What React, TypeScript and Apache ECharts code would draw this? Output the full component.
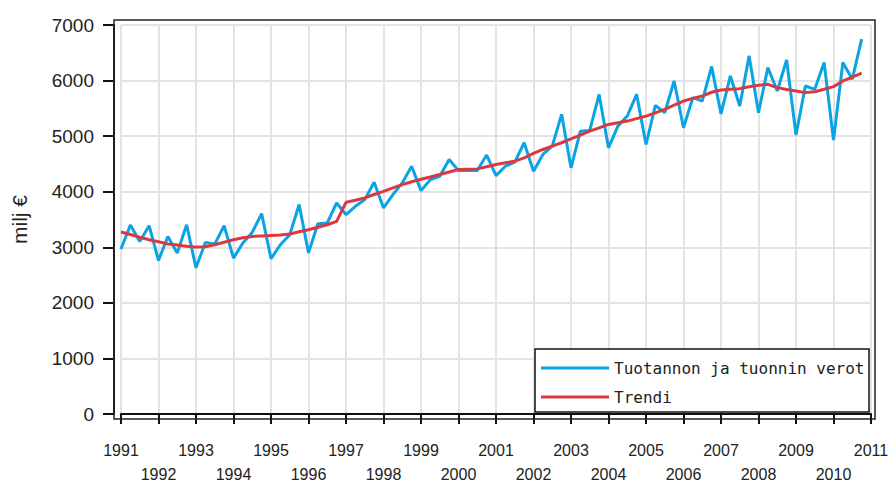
import React, { useEffect, useRef } from "react";
import * as echarts from "echarts";

// Quarterly data 1991Q1 .. 2010Q4 (milj €)
const startYear = 1991;
const quarters = ["Q1", "Q2", "Q3", "Q4"];

const verot: number[] = [
  2970, 3400, 3105, 3388,
  2762, 3195, 2895, 3406,
  2630, 3087, 3058, 3388,
  2805, 3076, 3267, 3605,
  2795, 3045, 3225, 3770,
  2900, 3424, 3437, 3798,
  3587, 3737, 3858, 4170,
  3707, 3948, 4159, 4459,
  4020, 4218, 4278, 4580,
  4380, 4380, 4380, 4660,
  4290, 4459, 4531, 4881,
  4368, 4670, 4820, 5392,
  4430, 5090, 5103, 5750,
  4790, 5180, 5361, 5753,
  4850, 5554, 5422, 5993,
  5151, 5693, 5632, 6253,
  5400, 6083, 5542, 6444,
  5422, 6235, 5812, 6372,
  5020, 5903, 5843, 6325,
  4930, 6325, 6024, 6745,
];

const trendi: number[] = [
  3274, 3230, 3180, 3135,
  3100, 3060, 3040, 3020,
  3003, 3010, 3045, 3090,
  3135, 3170, 3195, 3205,
  3213, 3220, 3240, 3280,
  3316, 3360, 3406, 3466,
  3809, 3845, 3888, 3950,
  4007, 4070, 4128, 4180,
  4225, 4265, 4309, 4355,
  4399, 4405, 4411, 4450,
  4489, 4520, 4549, 4610,
  4690, 4760, 4820, 4881,
  4950, 5020, 5090, 5150,
  5211, 5240, 5271, 5315,
  5361, 5420, 5482, 5560,
  5632, 5680, 5722, 5790,
  5830, 5843, 5855, 5890,
  5915, 5933, 5873, 5840,
  5812, 5783, 5800, 5843,
  5891, 5993, 6060, 6132,
];

const xMin = 1991;
const xMax = 2011;
const yMin = 0;
const yMax = 7000;
const yStep = 1000;

const seriesNames = ["Tuotannon ja tuonnin verot", "Trendi"];
const yAxisTitle = "milj €";

const toPoints = (vals: number[]) =>
  vals.map((v, i) => [startYear + Math.floor(i / quarters.length) + (i % quarters.length) / 4, v]);

const BLUE = "#0AA3E3";
const RED = "#D9393F";
const FONT = "Liberation Sans";
const LEGEND_FONT = "DejaVu Sans Mono";

export default function App() {
  const ref = useRef<HTMLDivElement>(null);
  useEffect(() => {
    if (!ref.current) return;
    const chart = echarts.init(ref.current, undefined, { renderer: "svg" });
    chart.setOption({
      animation: false,
      backgroundColor: "#ffffff",
      grid: { left: 121, right: 21, top: 25, bottom: 72 },
      xAxis: {
        type: "value",
        min: xMin,
        max: xMax,
        interval: 1,
        offset: 5,
        axisLine: { show: true, lineStyle: { color: "#111", width: 2 } },
        axisTick: { show: true, length: 10, lineStyle: { color: "#111", width: 2 } },
        axisLabel: {
          margin: 19,
          fontFamily: FONT,
          fontSize: 16,
          lineHeight: 24,
          color: "#222",
          showMinLabel: true,
          showMaxLabel: true,
          formatter: (v: number) =>
            (Math.round(v) - xMin) % 2 === 0 ? String(Math.round(v)) : "\n" + Math.round(v),
        },
        splitLine: { show: true, lineStyle: { color: "#e3e3e3", width: 2 } },
      },
      yAxis: {
        type: "value",
        min: yMin,
        max: yMax,
        interval: yStep,
        offset: 7,
        name: yAxisTitle,
        nameLocation: "middle",
        nameGap: 84,
        nameTextStyle: { fontFamily: FONT, fontSize: 21, color: "#222" },
        axisLine: { show: true, lineStyle: { color: "#111", width: 2 } },
        axisTick: { show: true, length: 11, lineStyle: { color: "#111", width: 2 } },
        axisLabel: {
          margin: 20,
          fontFamily: FONT,
          fontSize: 19,
          color: "#222",
          formatter: (v: number) => String(v),
        },
        splitLine: { show: true, lineStyle: { color: "#e3e3e3", width: 2 } },
      },
      series: [
        {
          name: seriesNames[0],
          type: "line",
          data: toPoints(verot),
          showSymbol: false,
          lineStyle: { color: BLUE, width: 3 },
          itemStyle: { color: BLUE },
          z: 2,
        },
        {
          name: seriesNames[1],
          type: "line",
          data: toPoints(trendi),
          showSymbol: false,
          lineStyle: { color: RED, width: 3 },
          itemStyle: { color: RED },
          z: 3,
        },
      ],
      graphic: [
        {
          type: "rect",
          shape: { x: 114, y: 20, width: 761, height: 399 },
          style: { fill: "none", stroke: "#222", lineWidth: 1.5 },
          z: 10,
        },
        {
          type: "rect",
          shape: { x: 535, y: 349, width: 334, height: 63 },
          style: { fill: "#fff", stroke: "#111", lineWidth: 1.5 },
          z: 20,
        },
        {
          type: "line",
          shape: { x1: 541, y1: 368, x2: 609, y2: 368 },
          style: { stroke: BLUE, lineWidth: 3 },
          z: 21,
        },
        {
          type: "text",
          x: 614,
          y: 368,
          style: {
            text: seriesNames[0],
            fontFamily: LEGEND_FONT,
            fontSize: 16,
            fill: "#222",
            verticalAlign: "middle",
          },
          z: 21,
        },
        {
          type: "line",
          shape: { x1: 541, y1: 397, x2: 609, y2: 397 },
          style: { stroke: RED, lineWidth: 3 },
          z: 21,
        },
        {
          type: "text",
          x: 614,
          y: 397,
          style: {
            text: seriesNames[1],
            fontFamily: LEGEND_FONT,
            fontSize: 16,
            fill: "#222",
            verticalAlign: "middle",
          },
          z: 21,
        },
      ],
    });
    return () => chart.dispose();
  }, []);
  return (
    <div
      ref={ref}
      style={{ position: "fixed", left: 0, top: 0, width: 892, height: 486, background: "#fff" }}
    />
  );
}
